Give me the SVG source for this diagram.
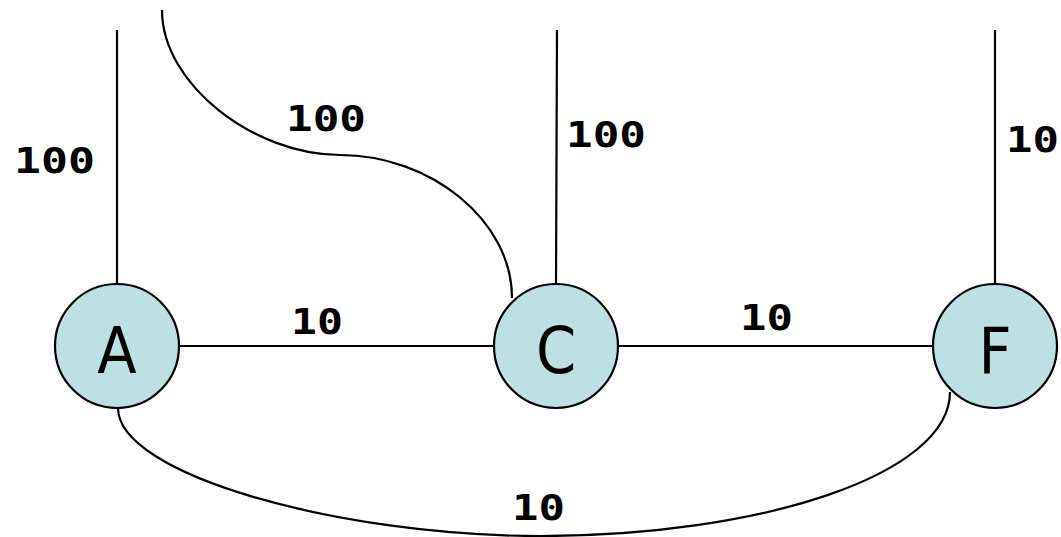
<svg xmlns="http://www.w3.org/2000/svg" width="1061" height="537" viewBox="0 0 1061 537">
<style>
.edge{fill:none;stroke:#000;stroke-width:2.2}
.node{fill:#bce0e4;stroke:#000;stroke-width:2.2}
.nl{font-family:"DejaVu Sans Condensed","DejaVu Sans",sans-serif;font-size:64px;text-anchor:middle}
.el{font-family:"DejaVu Sans Mono",monospace;font-weight:bold;font-size:35px}
</style>
<rect width="1061" height="537" fill="#fff"/>
<g id="connectors">
<line class="edge" x1="117" y1="30" x2="117" y2="284"/>
<line class="edge" x1="557" y1="30" x2="556" y2="284"/>
<line class="edge" x1="995" y1="30" x2="995" y2="284"/>
<path class="edge" d="M162,10 C162,85 255,155 340,155 C430,155 512,220 512,298"/>
<line class="edge" x1="180" y1="346" x2="494" y2="346"/>
<line class="edge" x1="619" y1="346" x2="933" y2="346"/>
<path class="edge" d="M118,408 C118,475 340,536 540,536 C760,536 950,475 950,392"/>
</g>
<g id="labels">
<text class="el" x="14" y="173" textLength="81" lengthAdjust="spacingAndGlyphs">100</text>
<text class="el" x="286" y="131" textLength="80" lengthAdjust="spacingAndGlyphs">100</text>
<text class="el" x="566" y="147" textLength="80" lengthAdjust="spacingAndGlyphs">100</text>
<text class="el" x="1006" y="152" textLength="53" lengthAdjust="spacingAndGlyphs">10</text>
<text class="el" x="291" y="334" textLength="52" lengthAdjust="spacingAndGlyphs">10</text>
<text class="el" x="740" y="330" textLength="53" lengthAdjust="spacingAndGlyphs">10</text>
<text class="el" x="512" y="520" textLength="53" lengthAdjust="spacingAndGlyphs">10</text>
</g>
<g id="A"><circle class="node" cx="117" cy="346" r="62"/><text class="nl" x="117" y="373">A</text></g>
<g id="C"><circle class="node" cx="556" cy="346" r="62"/><text class="nl" x="556" y="373">C</text></g>
<g id="F"><circle class="node" cx="995" cy="346" r="62"/><text class="nl" x="995" y="373">F</text></g>
</svg>
